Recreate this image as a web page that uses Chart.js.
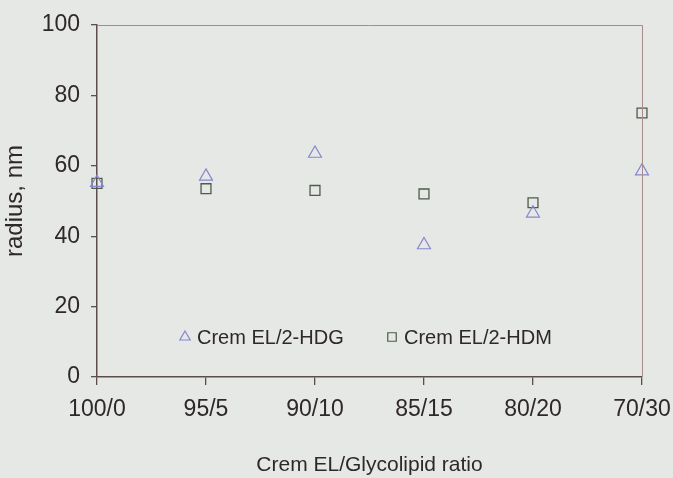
<!DOCTYPE html>
<html>
<head>
<meta charset="utf-8">
<script src="https://cdn.jsdelivr.net/npm/chart.js@4/dist/chart.umd.min.js"></script>
<style>
  html, body { margin: 0; padding: 0; background: #e5e8e5; }
  #wrap { width: 673px; height: 478px; }
</style>
</head>
<body>
<div id="wrap"><canvas id="chart" width="673" height="478"></canvas></div>
<script>
const ratios = ['100/0', '95/5', '90/10', '85/15', '80/20', '70/30'];
const hdg = [55.2, 57, 63.5, 37.5, 46.5, 58.5];
const hdm = [55, 53.5, 53, 52, 49.5, 75];
const yTicks = [0, 20, 40, 60, 80, 100];

const textColor = '#2f2828';
const axisColor = '#5e4c4a';
const fontFam = '"Liberation Sans", Arial, sans-serif';

// frame on top/right + legend drawn inside plot area
const framePlugin = {
  id: 'frame',
  afterDraw(chart) {
    const { ctx, chartArea: a } = chart;
    ctx.save();
    ctx.strokeStyle = '#a58c88';
    ctx.lineWidth = 1;
    ctx.beginPath();
    ctx.moveTo(a.left, a.top + 0.5);
    ctx.lineTo(a.right + 0.5, a.top + 0.5);
    ctx.lineTo(a.right + 0.5, a.bottom);
    ctx.stroke();

    // legend
    const ly = a.bottom - 40;
    const items = [{ ds: 0, x: 185 }, { ds: 1, x: 392 }];
    ctx.font = '20px ' + fontFam;
    ctx.textBaseline = 'middle';
    items.forEach(it => {
      const d = chart.data.datasets[it.ds];
      ctx.fillStyle = 'rgba(0,0,0,0)';
      ctx.strokeStyle = d.borderColor;
      ctx.lineWidth = 1.2;
      Chart.helpers.drawPoint(ctx, {
        pointStyle: d.pointStyle, radius: 6, rotation: 0,
        borderWidth: 1.2
      }, it.x, ly);
      ctx.fillStyle = textColor;
      ctx.fillText(d.label, it.x + 12, ly + 1);
    });
    ctx.restore();
  }
};

new Chart(document.getElementById('chart'), {
  type: 'line',
  data: {
    labels: ratios,
    datasets: [
      {
        label: 'Crem EL/2-HDG',
        data: hdg,
        showLine: false,
        pointStyle: 'triangle',
        pointRadius: 7.5,
        borderColor: '#8787cf',
        backgroundColor: 'rgba(0,0,0,0)',
        pointBorderWidth: 1.2
      },
      {
        label: 'Crem EL/2-HDM',
        data: hdm,
        showLine: false,
        pointStyle: 'rect',
        pointRadius: 7,
        borderColor: '#4d5c45',
        backgroundColor: 'rgba(0,0,0,0)',
        pointBorderWidth: 1.3
      }
    ]
  },
  options: {
    responsive: false,
    animation: false,
    layout: { padding: { top: 25, right: 31, bottom: 0, left: 0 } },
    plugins: {
      legend: { display: false },
      tooltip: { enabled: false }
    },
    scales: {
      x: {
        offset: false,
        grid: { drawOnChartArea: false, drawTicks: true, tickLength: 8, color: axisColor, lineWidth: 1.3 },
        border: { color: axisColor, width: 1.5 },
        ticks: { color: textColor, font: { size: 23, family: fontFam }, padding: 11, maxRotation: 0, autoSkip: false },
        title: { display: true, text: 'Crem EL/Glycolipid ratio', color: textColor, font: { size: 21, family: fontFam }, padding: { top: 0, bottom: 0 } },
        afterFit(scale) {
          scale.height = 101;
          scale.paddingLeft = 0;
          scale.paddingRight = 0;
        }
      },
      y: {
        min: 0,
        max: 100,
        afterBuildTicks(scale) { scale.ticks = yTicks.map(v => ({ value: v })); },
        grid: { drawOnChartArea: false, drawTicks: true, tickLength: 6, color: axisColor, lineWidth: 1.3 },
        border: { color: axisColor, width: 1.5 },
        ticks: { color: textColor, font: { size: 23, family: fontFam }, padding: 11 },
        title: { display: true, text: 'radius, nm', color: textColor, font: { size: 24, family: fontFam }, padding: { top: 1, bottom: 0 } },
        afterFit(scale) {
          scale.width = 97;
          scale.paddingTop = 0;
          scale.paddingBottom = 0;
        }
      }
    }
  },
  plugins: [framePlugin]
});
</script>
</body>
</html>
